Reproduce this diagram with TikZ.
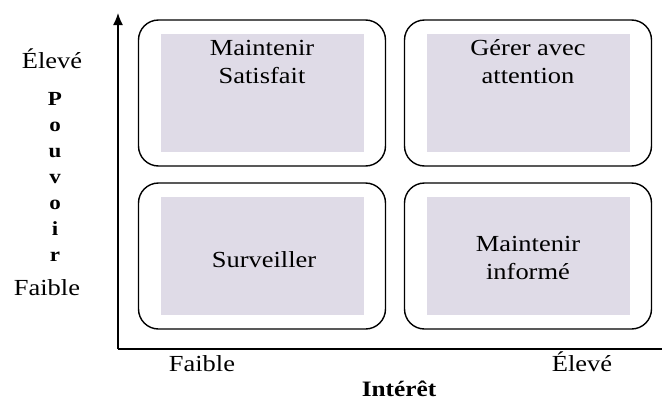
\documentclass[tikz,border=0pt]{standalone}
\usepackage{fontspec}
\setmainfont{Liberation Serif}[FakeStretch=1.15]
\usepackage{tikz}
\usetikzlibrary{arrows.meta}
\definecolor{lilac}{HTML}{DFDBE7}

\begin{document}
\begin{tikzpicture}[>=Latex,x=1pt,y=-1pt,font=\fontsize{23}{28}\selectfont,
  quad/.style={draw,line width=1.4pt,rounded corners=20pt,minimum width=247pt,minimum height=146pt},
  pane/.style={fill=lilac,minimum width=203pt,minimum height=118pt},
  word/.style={inner sep=0pt,align=center},
  bold/.style={font=\fontsize{#1}{#1}\selectfont\bfseries}]
\useasboundingbox (0,0) rectangle (662,402);
% axes
\coordinate (origin) at (118,349);
\coordinate (ytop) at (118,13);
\coordinate (xend) at (662,349);
\draw[line width=1.4pt,-{Latex[length=12pt,width=10pt]}] (origin)--(ytop);
\draw[line width=1.4pt] (origin)--(xend);
% quadrants
\node[quad] (satisfybox) at (262,93){};
\node[quad] (managebox) at (528,93){};
\node[quad] (monitorbox) at (262,256){};
\node[quad] (informbox) at (528,256){};
\node[pane] (satisfy) at (satisfybox.center){};
\node[pane] (manage) at (managebox.center){};
\node[pane] (monitor) at (monitorbox.center){};
\node[pane] (inform) at (informbox.center){};
\node[word,anchor=north] (satisfytext) at ([yshift=-6pt]satisfy.north){Maintenir\\Satisfait};
\node[word,anchor=north] (managetext) at ([yshift=-6pt]manage.north){Gérer avec\\attention};
\node[word,anchor=base] (monitortext) at (264,267){Surveiller};
\node[word] (informtext) at (528,257.5){Maintenir\\informé};
% power axis
\node[anchor=base] (yhigh) at (52,68){Élevé};
\foreach \c [count=\i from 0] in {P,o,u,v,o,i,r}
  \node[bold=20,anchor=base] (ylet\i) at (55,105+26*\i){\c};
\node[anchor=base] (ylow) at (47,295){Faible};
% interest axis
\node[anchor=base] (xlow) at (202,371){Faible};
\node[anchor=base] (xhigh) at (582,371){Élevé};
\node[bold=22,anchor=base] (xtitle) at (399,396){Intérêt};
\end{tikzpicture}
\end{document}
